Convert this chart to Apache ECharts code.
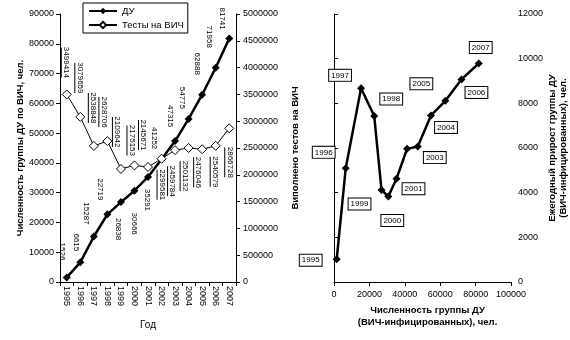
<!DOCTYPE html>
<html>
<head>
<meta charset="utf-8">
<script src="https://cdn.jsdelivr.net/npm/echarts@6/dist/echarts.min.js"></script>
<style>
  html, body { margin: 0; padding: 0; background: #fff; }
  #chart { width: 570px; height: 340px; }
</style>
</head>
<body>
<div id="chart"></div>
<script>
// Years of observation
const years = ['1995', '1996', '1997', '1998', '1999', '2000', '2001', '2002', '2003', '2004', '2005', '2006', '2007'];
// Registered HIV-positive persons (ДУ), people
const duCount = [1526, 6615, 15287, 22719, 26838, 30666, 35291, 41252, 47315, 54775, 62888, 71958, 81741];
// HIV tests performed
const hivTests = [3499414, 3079659, 2538848, 2628706, 2109642, 2175153, 2145671, 2299581, 2459784, 2501132, 2476046, 2540579, 2866728];
// Annual growth of the ДУ group, people
const annualGrowth = [1020, 5089, 8672, 7432, 4119, 3828, 4625, 5961, 6063, 7460, 8113, 9070, 9783];

// Label placement: screen-space pixel offsets [dx, dy] from the marker centre
const duLabelOffsets = [[-5, -26], [-4, -20], [-8, -23], [-7, -25], [-3, 27], [0, 33], [-1, 23], [-7, -21], [-5, -25], [-6, -21], [-5, -31], [-6, -31], [-7, -20]];
const testLabelOffsets = [[-1, -32], [-1, -39], [-1, -38], [-4, -29], [-4, -37], [-3, -25], [-5, -32], [0, 26], [-3, 31], [-4, 28], [-4, 23], [-1, 26], [0, 34]];
const yearLabelOffsets = [[-26, 1], [-22, -16], [-21, -13], [17, -17], [-22, 14], [4, 24], [17, 10], null, [17, 11], [15, 12], [-24, -17], [15, 13], [2, -16]];

// Labels are turned 90° clockwise; their offset is applied in the turned frame
const turnedOffset = (o) => [o[1], -o[0]];

const FONT = "'Liberation Sans', Arial, sans-serif";
const plain = (v) => String(v);
const axisLine = { show: true, lineStyle: { color: '#000', width: 1 } };
const axisTick = { show: true, length: 4, lineStyle: { color: '#000', width: 1 } };
const tickLabel = (extra) => Object.assign({ color: '#000', fontSize: 9, fontFamily: FONT, formatter: plain }, extra || {});
const nameStyle = (extra) => Object.assign({ color: '#000', fontSize: 9.5, fontFamily: FONT, fontWeight: 'bold' }, extra || {});

const chart = echarts.init(document.getElementById('chart'), null, { renderer: 'canvas' });

chart.setOption({
  animation: false,
  backgroundColor: '#fff',
  textStyle: { fontFamily: FONT },
  legend: {
    left: 83, top: 3,
    orient: 'vertical',
    data: ['ДУ', 'Тесты на ВИЧ'],
    itemWidth: 28, itemHeight: 8, itemGap: 4,
    padding: [3, 4, 3, 5],
    borderColor: '#000', borderWidth: 1,
    textStyle: { color: '#000', fontSize: 9.5, fontFamily: FONT }
  },
  grid: [
    { left: 60, top: 14, width: 176, height: 268 },
    { left: 334, top: 14, width: 178, height: 268 }
  ],
  xAxis: [
    {
      gridIndex: 0, type: 'category', data: years, boundaryGap: true,
      axisLine, axisTick: Object.assign({}, axisTick, { alignWithLabel: false, interval: 0 }),
      axisLabel: { color: '#000', fontSize: 9, fontFamily: FONT, rotate: -90, interval: 0, margin: 4 },
      name: 'Год', nameLocation: 'middle', nameGap: 38,
      nameTextStyle: nameStyle({ fontWeight: 'normal', fontSize: 10 })
    },
    {
      gridIndex: 1, type: 'value', min: 0, max: 100000, interval: 20000,
      axisLine, axisTick, splitLine: { show: false },
      axisLabel: tickLabel({ margin: 8 }),
      name: 'Численность группы ДУ\n(ВИЧ-инфицированных), чел.',
      nameLocation: 'middle', nameGap: 18,
      nameTextStyle: nameStyle({ lineHeight: 12, padding: [0, 0, 0, 10] })
    }
  ],
  yAxis: [
    {
      gridIndex: 0, type: 'value', min: 0, max: 90000, interval: 10000,
      axisLine, axisTick, splitLine: { show: false },
      axisLabel: tickLabel({ margin: 6 }),
      name: 'Численность группы ДУ по ВИЧ, чел.', nameLocation: 'middle', nameGap: 35,
      nameTextStyle: nameStyle()
    },
    {
      gridIndex: 0, type: 'value', position: 'right', min: 0, max: 5000000, interval: 500000,
      axisLine, axisTick, splitLine: { show: false },
      axisLabel: tickLabel({ margin: 7 }),
      name: 'Виполнено тестов на ВИЧ', nameLocation: 'middle', nameGap: 54, nameRotate: 90,
      nameTextStyle: nameStyle()
    },
    {
      gridIndex: 1, type: 'value', position: 'right', min: 0, max: 12000, interval: 2000,
      axisLine, axisTick, splitLine: { show: false },
      axisLabel: tickLabel({ margin: 7 }),
      name: 'Ежегодный прирост группы ДУ\n(ВИЧ-инфицированных), чел.',
      nameLocation: 'middle', nameGap: 32, nameRotate: 90,
      nameTextStyle: nameStyle({ lineHeight: 11 })
    }
  ],
  series: [
    {
      name: 'ДУ', type: 'line', xAxisIndex: 0, yAxisIndex: 0,
      symbol: 'diamond', symbolSize: 8, z: 3,
      itemStyle: { color: '#000' },
      lineStyle: { color: '#000', width: 2.5 },
      label: {
        show: true, position: 'inside', rotate: -90,
        color: '#000', fontSize: 8, fontFamily: FONT,
        formatter: (p) => String(p.value)
      },
      data: duCount.map((v, i) => ({ value: v, label: { offset: turnedOffset(duLabelOffsets[i]) } }))
    },
    {
      name: 'Тесты на ВИЧ', type: 'line', xAxisIndex: 0, yAxisIndex: 1,
      symbol: 'diamond', symbolSize: 9, z: 4,
      itemStyle: { color: '#fff', borderColor: '#000', borderWidth: 1 },
      lineStyle: { color: '#000', width: 1 },
      label: {
        show: true, position: 'inside', rotate: -90,
        color: '#000', fontFamily: FONT,
        formatter: (p) => '{t|' + p.value + '}\n{u| }',
        rich: {
          t: { fontSize: 8, lineHeight: 9, color: '#000' },
          u: { width: 30, height: 1, lineHeight: 1, fontSize: 1, backgroundColor: '#000' }
        }
      },
      data: hivTests.map((v, i) => ({ value: v, label: { offset: turnedOffset(testLabelOffsets[i]) } }))
    },
    {
      name: 'Прирост', type: 'line', xAxisIndex: 1, yAxisIndex: 2,
      symbol: 'diamond', symbolSize: 8,
      itemStyle: { color: '#000' },
      lineStyle: { color: '#000', width: 2.5 },
      label: {
        show: true, position: 'inside',
        color: '#000', fontSize: 8, fontFamily: FONT,
        backgroundColor: '#fff', borderColor: '#000', borderWidth: 1,
        padding: [2, 2, 1, 2],
        formatter: (p) => years[p.dataIndex]
      },
      data: duCount.map((v, i) => ({
        value: [v, annualGrowth[i]],
        label: yearLabelOffsets[i] ? { offset: yearLabelOffsets[i] } : { show: false }
      }))
    }
  ]
});
</script>
</body>
</html>
